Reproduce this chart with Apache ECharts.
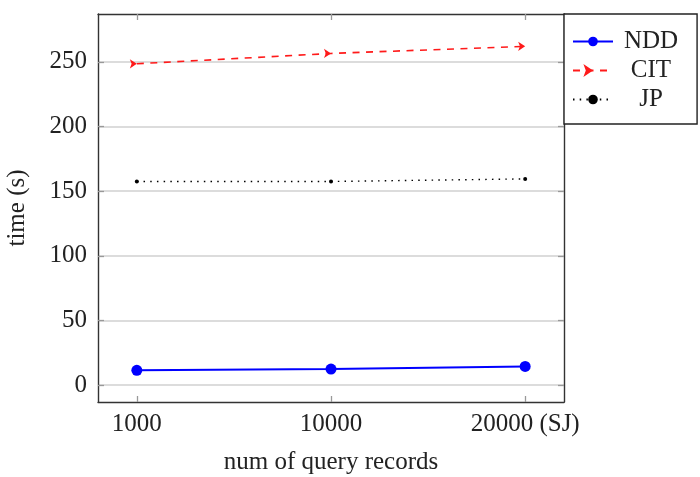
<!DOCTYPE html>
<html>
<head>
<meta charset="utf-8">
<script src="https://cdn.jsdelivr.net/npm/echarts@6/dist/echarts.min.js"></script>
<style>html,body{margin:0;padding:0;background:#fff;}#c{width:700px;height:477px;}</style>
</head>
<body>
<div id="c"></div>
<script>
const categories = ['1000', '10000', '20000 (SJ)'];
const yTicks = [0, 50, 100, 150, 200, 250];
const nddValues = [11.5, 12.5, 14.5];
const citValues = [248.5, 256.5, 262];
const jpValues = [157.5, 157.5, 159.5];

const FONT = 'Liberation Serif';
const FS = 25;
const chart = echarts.init(document.getElementById('c'));
const toPts = vals => vals.map((v, i) => [i, v]);
const xIdx = categories.map((c, i) => i);

const baseX = {
  type: 'value', min: -0.2, max: 2.2,
  axisLine: {show: true, onZero: false, lineStyle: {color: '#333', width: 1.4}},
  axisTick: {show: true, inside: true, length: 6, customValues: xIdx, lineStyle: {color: '#999', width: 1.3}},
  splitLine: {show: false}
};
const baseY = {
  type: 'value', min: -13, max: 287,
  axisLine: {show: true, onZero: false, lineStyle: {color: '#333', width: 1.4}},
  axisTick: {show: true, inside: true, length: 6, customValues: yTicks, lineStyle: {color: '#999', width: 1.3}},
};

chart.setOption({
  animation: false,
  textStyle: {fontFamily: FONT},
  grid: {left: 98, right: 136, top: 14, bottom: 75, containLabel: false, outerBoundsMode: 'none'},
  xAxis: [
    Object.assign({}, baseX, {
      position: 'bottom',
      name: 'num of query records', nameLocation: 'middle', nameGap: 48,
      nameTextStyle: {fontFamily: FONT, fontSize: FS, color: '#222'},
      axisLabel: {customValues: xIdx, margin: 10, fontFamily: FONT, fontSize: FS, color: '#222',
        formatter: v => categories[Math.round(v)]}
    }),
    Object.assign({}, baseX, {position: 'top', axisLabel: {show: false}})
  ],
  yAxis: [
    Object.assign({}, baseY, {
      position: 'left',
      name: 'time (s)', nameLocation: 'middle', nameGap: 68,
      nameTextStyle: {fontFamily: FONT, fontSize: FS, color: '#222'},
      axisLabel: {customValues: yTicks, margin: 11, fontFamily: FONT, fontSize: FS, color: '#222'},
      splitLine: {show: true, lineStyle: {color: '#d0d0d0', width: 1.5}}
    }),
    Object.assign({}, baseY, {position: 'right', axisLabel: {show: false}, splitLine: {show: false}})
  ],
  legend: {
    show: true, orient: 'vertical', left: 564, top: 14,
    padding: [15, 19, 12, 8], itemGap: 4, itemWidth: 40, itemHeight: 12,
    borderColor: '#222', borderWidth: 1.4, backgroundColor: '#fff',
    data: ['NDD', 'CIT', 'JP'],
    formatter: n => '{t|' + n + '}',
    textStyle: {fontFamily: FONT, fontSize: FS, color: '#222',
      rich: {t: {fontFamily: FONT, fontSize: FS, color: '#222', width: 66, align: 'center'}}}
  },
  series: [
    {name: 'NDD', type: 'line', data: toPts(nddValues), color: '#0000ff',
      symbol: 'circle', symbolSize: 11, lineStyle: {width: 2}, z: 5},
    {name: 'CIT', type: 'line', data: toPts(citValues), color: '#ff1a1a',
      symbol: 'arrow', symbolRotate: -90, symbolSize: 7, lineStyle: {width: 1.6, type: [7, 6.5]}},
    {name: 'JP', type: 'line', data: toPts(jpValues), color: '#000000',
      symbol: 'circle', symbolSize: 4, lineStyle: {width: 1.4, type: [1.5, 5.2]}}
  ]
});
</script>
</body>
</html>
